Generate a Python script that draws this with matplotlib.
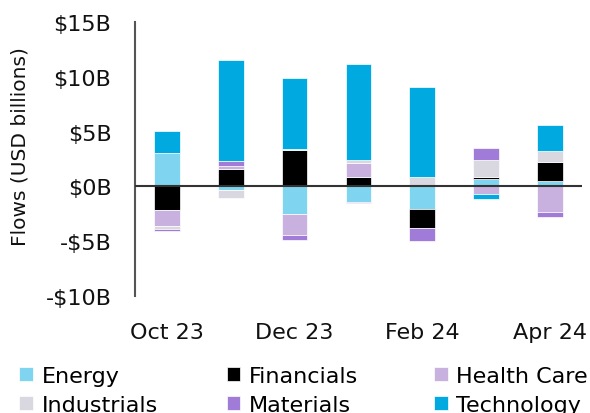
import matplotlib.pyplot as plt
import numpy as np

plt.rcParams['font.family'] = ['DejaVu Sans']

months = ['Oct 23', 'Nov 23', 'Dec 23', 'Jan 24', 'Feb 24', 'Mar 24', 'Apr 24']
tick_labels = ['Oct 23', '', 'Dec 23', '', 'Feb 24', '', 'Apr 24']

# flows in USD billions per sector
energy      = [3.07, -0.33, -2.56, -1.39, -2.08, 0.63, 0.49]
financials  = [-2.17, 1.59, 3.31, 0.84, -1.72, 0.27, 1.74]
health_care = [-1.45, 0.24, -1.90, 1.26, 0.10, -0.66, -2.38]
industrials = [-0.30, -0.70, 0.15, 0.33, 0.76, 1.50, 1.00]
materials   = [-0.20, 0.50, -0.42, -0.15, -1.21, 1.08, -0.39]
technology  = [1.96, 9.24, 6.42, 8.76, 8.18, -0.45, 2.38]

sectors = ['Energy', 'Financials', 'Health Care', 'Industrials', 'Materials', 'Technology']
series = [energy, financials, health_care, industrials, materials, technology]
colors = ['#7fd4ef', '#000000', '#c8b1df', '#d9d7e0', '#a07bd8', '#00a9e0']

fig = plt.figure(figsize=(5.9, 4.14), dpi=100)
ax = fig.add_axes([0.229, 0.283, 0.757, 0.661])

x = np.arange(len(months))
pos_base = np.zeros(len(months))
neg_base = np.zeros(len(months))
handles = []
for name, vals, c in zip(sectors, series, colors):
    v = np.array(vals)
    bottom = np.where(v >= 0, pos_base, neg_base)
    b = ax.bar(x, v, 0.4, bottom=bottom, color=c, label=name,
               edgecolor='white', linewidth=0.5)
    handles.append(b)
    pos_base += np.where(v >= 0, v, 0)
    neg_base += np.where(v < 0, v, 0)

ax.axhline(0, color='#333333', lw=1.5, zorder=5)
ax.set_xlim(-0.5, 6.5)
ax.set_ylim(-10, 15)
ax.set_yticks([-10, -5, 0, 5, 10, 15])
ax.set_yticklabels(['-$10B', '-$5B', '$0B', '$5B', '$10B', '$15B'])
ax.set_xticks(x)
ax.set_xticklabels(tick_labels)
ax.tick_params(length=0, labelsize=16, colors='#111111')
ax.tick_params(axis='x', pad=19)
ax.tick_params(axis='y', pad=17)
for s in ['top', 'right', 'bottom']:
    ax.spines[s].set_visible(False)
ax.spines['left'].set_color('#555555')
ax.spines['left'].set_linewidth(1.5)
ax.set_ylabel('Flows (USD billions)', fontsize=14.5, color='#111111')
ax.yaxis.set_label_coords(-0.237, 0.549)

# one legend per column, row-major order like the reference
col_x = [0.033, 0.385, 0.736]
for i, cx in enumerate(col_x):
    hs = [handles[i], handles[i + 3]]
    ls = [sectors[i], sectors[i + 3]]
    fig.legend(hs, ls, loc='upper left', bbox_to_anchor=(cx, 0.113), frameon=False,
               fontsize=16, handlelength=0.6, handleheight=0.6, handletextpad=0.4,
               labelspacing=0.38, borderpad=0, borderaxespad=0)

fig.savefig('out.png', dpi=100)
